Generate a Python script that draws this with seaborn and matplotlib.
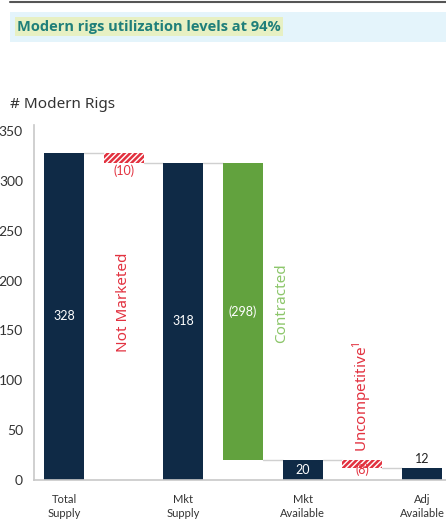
import matplotlib
matplotlib.use("Agg")
import matplotlib.pyplot as plt
import seaborn as sns
import pandas as pd
from matplotlib.patches import Rectangle

# Waterfall steps
steps = ["Total\nSupply", "Not Marketed", "Mkt\nSupply", "Contracted",
         "Mkt\nAvailable", "Uncompetitive¹", "Adj\nAvailable"]
values = [328, -10, 318, -298, 20, -8, 12]
is_total = [True, False, True, False, True, False, True]
bar_labels = ["328", "(10)", "318", "(298)", "20", "(8)", "12"]
yticks = [0, 50, 100, 150, 200, 250, 300, 350]

NAVY = "#0f2a46"
GREEN = "#62a23e"
RED = "#e2313f"
LIGHT_GREEN = "#8cc66a"

# bottoms / heights of each bar
bottoms, heights = [], []
level = 0
for v, tot in zip(values, is_total):
    if tot:
        bottoms.append(0)
        heights.append(v)
        level = v
    else:
        level = level + v
        bottoms.append(level)
        heights.append(-v)

colors = {}
for s, v, tot in zip(steps, values, is_total):
    if tot:
        colors[s] = NAVY
    elif s == "Contracted":
        colors[s] = GREEN
    else:
        colors[s] = "white"

df = pd.DataFrame({"step": steps, "height": heights})

sns.set_theme(style="white")
plt.rcParams["font.family"] = ["Lato", "DejaVu Sans"]
plt.rcParams["hatch.linewidth"] = 1.8

fig = plt.figure(figsize=(4.46, 5.23), dpi=100)
ax = fig.add_axes([34 / 446, 1 - 480 / 523, 412 / 446, (480 - 125) / 523])

sns.barplot(data=df, x="step", y="height", hue="step", order=steps,
            hue_order=steps, palette=colors, legend=False, width=0.67,
            saturation=1, linewidth=0, ax=ax)

for p in ax.patches:
    idx = int(round(p.get_x() + p.get_width() / 2))
    p.set_y(bottoms[idx])
    if not is_total[idx] and steps[idx] != "Contracted":
        p.set_facecolor("white")
        p.set_edgecolor(RED)
        p.set_hatch("//////")
        p.set_linewidth(0)

# connectors between consecutive bars
hw = 0.67 / 2
for i in range(len(steps) - 1):
    if is_total[i]:
        y = bottoms[i] + heights[i]
    else:
        y = bottoms[i]
    ax.plot([i + hw, i + 1 - hw], [y, y], color="#d0d0d0", lw=1, zorder=0)

ax.set_xlim(-0.503, 6.4)
ax.set_ylim(0, 356)
ax.set_yticks(yticks)
ax.set_yticklabels([str(t) for t in yticks], fontsize=10, color="#333333")
ax.set_xticks(range(len(steps)))
ax.set_xticklabels([s if t else "" for s, t in zip(steps, is_total)],
                   fontsize=8, color="#333333", linespacing=1.35)
ax.tick_params(axis="both", length=0)
ax.tick_params(axis="x", pad=10)
ax.tick_params(axis="y", pad=8)
ax.set_xlabel("")
ax.set_ylabel("")
for side in ["top", "right"]:
    ax.spines[side].set_visible(False)
for side in ["left", "bottom"]:
    ax.spines[side].set_color("#c8c8c8")
    ax.spines[side].set_linewidth(1.2)

# value labels
for i, (lab, b, h) in enumerate(zip(bar_labels, bottoms, heights)):
    if steps[i] in ("Total\nSupply", "Mkt\nSupply", "Contracted", "Mkt\nAvailable"):
        ax.text(i, b + h / 2, lab, color="white", ha="center", va="center", fontsize=9)
    elif steps[i] == "Not Marketed":
        ax.text(i, b - 8, lab, color=RED, ha="center", va="center", fontsize=9)
    elif steps[i] == "Uncompetitive¹":
        ax.text(i, b - 2, lab, color=RED, ha="center", va="center", fontsize=9)
    else:
        ax.text(i, b + h + 9, lab, color="#222222", ha="center", va="center", fontsize=9)

# rotated step names
ax.text(1, 178, "Not Marketed", rotation=90, color=RED, ha="center", va="center",
        fontsize=11, family=["Noto Sans", "DejaVu Sans"])
ax.text(3.64, 177, "Contracted", rotation=90, color=LIGHT_GREEN, ha="center",
        va="center", fontsize=11, family=["Noto Sans", "DejaVu Sans"])
ax.text(5, 84, r"Uncompetitive$^{\mathregular{1}}$", rotation=90, color=RED,
        ha="center", va="center", fontsize=11, family=["Noto Sans", "DejaVu Sans"])

# axis title
fig.text(10 / 446, 1 - 105 / 523, "# Modern Rigs", fontsize=11, color="#333333",
         ha="left", va="center", family=["Noto Sans", "DejaVu Sans"])

# header banner
fig.add_artist(plt.Line2D([10 / 446, 1], [1 - 1.5 / 523] * 2, color="#555555", lw=1.5))
fig.add_artist(Rectangle((10 / 446, 1 - 42 / 523), 436 / 446, 30 / 523,
                         transform=fig.transFigure, facecolor="#e4f4fb", lw=0))
fig.add_artist(Rectangle((15 / 446, 1 - 36 / 523), 268 / 446, 19 / 523,
                         transform=fig.transFigure, facecolor="#e7f0c3", lw=0))
fig.text(17 / 446, 1 - 27 / 523, "Modern rigs utilization levels at 94%",
         fontsize=10.5, fontweight="bold", color="#1f7f7a", ha="left", va="center",
         family=["Open Sans", "DejaVu Sans"])

fig.savefig("out.png", dpi=100, facecolor="white")
